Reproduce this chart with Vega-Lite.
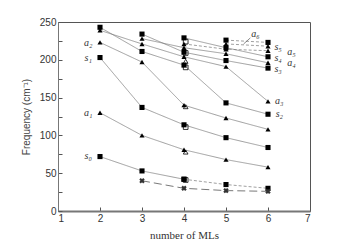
{
  "$schema": "https://vega.github.io/schema/vega-lite/v6.json",
  "width": 252,
  "height": 189,
  "autosize": "none",
  "padding": {"left": 58, "top": 22, "right": 28, "bottom": 39},
  "background": "white",
  "config": {
    "view": {"stroke": "#555", "strokeWidth": 1},
    "axis": {"grid": false, "labelFont": "Liberation Sans", "labelFontSize": 10, "labelColor": "#333", "domainColor": "#777", "tickColor": "#555", "labelOverlap": false},
    "axisY": {"labelOverlap": false},
    "axisQuantitative": {"labelOverlap": false}
  },
  "datasets": {
    "modes": [
      {"series": "s0a", "kind": "s", "dash": "solid", "x": 2, "y": 72},
      {"series": "s0a", "kind": "s", "dash": "solid", "x": 3, "y": 53},
      {"series": "s0a", "kind": "s", "dash": "solid", "x": 4, "y": 42},
      {"series": "s0b", "kind": "s", "dash": "short", "x": 4, "y": 42},
      {"series": "s0b", "kind": "s", "dash": "short", "x": 5, "y": 35},
      {"series": "s0b", "kind": "s", "dash": "short", "x": 6, "y": 30},
      {"series": "a1", "kind": "a", "dash": "solid", "x": 2, "y": 130},
      {"series": "a1", "kind": "a", "dash": "solid", "x": 3, "y": 100},
      {"series": "a1", "kind": "a", "dash": "solid", "x": 4, "y": 81},
      {"series": "a1", "kind": "a", "dash": "solid", "x": 5, "y": 68},
      {"series": "a1", "kind": "a", "dash": "solid", "x": 6, "y": 58},
      {"series": "s1", "kind": "s", "dash": "solid", "x": 2, "y": 203},
      {"series": "s1", "kind": "s", "dash": "solid", "x": 3, "y": 137},
      {"series": "s1", "kind": "s", "dash": "solid", "x": 4, "y": 114},
      {"series": "s1", "kind": "s", "dash": "solid", "x": 5, "y": 97},
      {"series": "s1", "kind": "s", "dash": "solid", "x": 6, "y": 84},
      {"series": "a2", "kind": "a", "dash": "solid", "x": 2, "y": 223},
      {"series": "a2", "kind": "a", "dash": "solid", "x": 3, "y": 197},
      {"series": "a2", "kind": "a", "dash": "solid", "x": 4, "y": 140},
      {"series": "a2", "kind": "a", "dash": "solid", "x": 5, "y": 123},
      {"series": "a2", "kind": "a", "dash": "solid", "x": 6, "y": 108},
      {"series": "s2", "kind": "s", "dash": "solid", "x": 2, "y": 243},
      {"series": "s2", "kind": "s", "dash": "solid", "x": 3, "y": 211},
      {"series": "s2", "kind": "s", "dash": "solid", "x": 4, "y": 193},
      {"series": "s2", "kind": "s", "dash": "solid", "x": 5, "y": 143},
      {"series": "s2", "kind": "s", "dash": "solid", "x": 6, "y": 128},
      {"series": "a3", "kind": "a", "dash": "solid", "x": 2, "y": 239},
      {"series": "a3", "kind": "a", "dash": "solid", "x": 3, "y": 221},
      {"series": "a3", "kind": "a", "dash": "solid", "x": 4, "y": 204},
      {"series": "a3", "kind": "a", "dash": "solid", "x": 5, "y": 191},
      {"series": "a3", "kind": "a", "dash": "solid", "x": 6, "y": 145},
      {"series": "s3", "kind": "s", "dash": "solid", "x": 3, "y": 234},
      {"series": "s3", "kind": "s", "dash": "solid", "x": 4, "y": 210},
      {"series": "s3", "kind": "s", "dash": "solid", "x": 5, "y": 199},
      {"series": "s3", "kind": "s", "dash": "solid", "x": 6, "y": 189},
      {"series": "a4", "kind": "a", "dash": "solid", "x": 3, "y": 228},
      {"series": "a4", "kind": "a", "dash": "solid", "x": 4, "y": 216},
      {"series": "a4", "kind": "a", "dash": "solid", "x": 5, "y": 208},
      {"series": "a4", "kind": "a", "dash": "solid", "x": 6, "y": 196},
      {"series": "s4", "kind": "s", "dash": "solid", "x": 4, "y": 229},
      {"series": "s4", "kind": "s", "dash": "solid", "x": 5, "y": 216},
      {"series": "s4", "kind": "s", "dash": "solid", "x": 6, "y": 204},
      {"series": "a5", "kind": "a", "dash": "short", "x": 4, "y": 221},
      {"series": "a5", "kind": "a", "dash": "short", "x": 5, "y": 214},
      {"series": "a5", "kind": "a", "dash": "short", "x": 6, "y": 212},
      {"series": "s5", "kind": "s", "dash": "short", "x": 5, "y": 226},
      {"series": "s5", "kind": "s", "dash": "short", "x": 6, "y": 223},
      {"series": "a6", "kind": "a", "dash": "short", "x": 5, "y": 221},
      {"series": "a6", "kind": "a", "dash": "short", "x": 6, "y": 218}
    ],
    "stars": [
      {"x": 3, "y": 40}, {"x": 4, "y": 30}, {"x": 5, "y": 27}, {"x": 6, "y": 26}
    ],
    "open": [
      {"kind": "s", "x": 4.04, "y": 224},
      {"kind": "s", "x": 4.04, "y": 209},
      {"kind": "s", "x": 4.04, "y": 190},
      {"kind": "s", "x": 4.04, "y": 111},
      {"kind": "s", "x": 4.04, "y": 41},
      {"kind": "a", "x": 4.04, "y": 198},
      {"kind": "a", "x": 4.04, "y": 138},
      {"kind": "a", "x": 4.04, "y": 78}
    ],
    "labels": [
      {"x": 1.72, "y": 222, "t": "a₂"},
      {"x": 1.72, "y": 202, "t": "s₁"},
      {"x": 1.72, "y": 130, "t": "a₁"},
      {"x": 1.72, "y": 73, "t": "s₀"},
      {"x": 5.7, "y": 234, "t": "a₆"},
      {"x": 6.24, "y": 217, "t": "s₅"},
      {"x": 6.56, "y": 210, "t": "a₅"},
      {"x": 6.24, "y": 203, "t": "s₄"},
      {"x": 6.56, "y": 196, "t": "a₄"},
      {"x": 6.24, "y": 188, "t": "s₃"},
      {"x": 6.27, "y": 145, "t": "a₃"},
      {"x": 6.27, "y": 128, "t": "s₂"}
    ],
    "leader": [
      {"x": 5.58, "y": 229, "x2": 5.42, "y2": 221}
    ]
  },
  "encoding": {
    "x": {"field": "x", "type": "quantitative", "scale": {"domain": [1, 7], "nice": false},
          "axis": {"values": [1, 2, 3, 4, 5, 6, 7], "labelOverlap": false, "tickSize": -4, "domainWidth": 2, "labelPadding": 6, "title": "number of MLs", "titleFont": "Liberation Serif", "titleFontWeight": "normal", "titleFontSize": 11, "titleColor": "#333", "titlePadding": 6}},
    "y": {"field": "y", "type": "quantitative", "scale": {"domain": [0, 250], "nice": false},
          "axis": {"values": [0, 25, 50, 75, 100, 125, 150, 175, 200, 225, 250], "labelOverlap": false, "labelExpr": "datum.value % 50 == 0 ? datum.label : ''", "tickSize": -4, "labelPadding": 6, "title": "Frequency (cm⁻¹)", "titleFont": "Liberation Sans", "titleFontWeight": "normal", "titleFontSize": 10, "titleColor": "#444", "titlePadding": 8}}
  },
  "layer": [
    {
      "data": {"name": "modes"},
      "mark": {"type": "line", "color": "#777", "strokeWidth": 0.7},
      "encoding": {
        "detail": {"field": "series"},
        "strokeDash": {"field": "dash", "type": "nominal", "scale": {"domain": ["solid", "short"], "range": [[1, 0], [3, 2]]}, "legend": null}
      }
    },
    {
      "data": {"name": "stars"},
      "mark": {"type": "line", "color": "#555", "strokeWidth": 0.8, "strokeDash": [8, 4]},
      "encoding": {}
    },
    {
      "data": {"name": "leader"},
      "mark": {"type": "rule", "color": "#555", "strokeWidth": 0.7},
      "encoding": {"x2": {"field": "x2"}, "y2": {"field": "y2"}}
    },
    {
      "data": {"name": "modes"},
      "mark": {"type": "point", "filled": true, "color": "black", "opacity": 1, "size": 26},
      "encoding": {
        "shape": {"field": "kind", "type": "nominal", "scale": {"domain": ["s", "a"], "range": ["square", "triangle-up"]}, "legend": null}
      }
    },
    {
      "data": {"name": "open"},
      "mark": {"type": "point", "filled": false, "color": "black", "strokeWidth": 0.8, "opacity": 1, "size": 22},
      "encoding": {
        "shape": {"field": "kind", "type": "nominal", "scale": {"domain": ["s", "a"], "range": ["square", "triangle-up"]}, "legend": null}
      }
    },
    {
      "data": {"name": "stars"},
      "mark": {"type": "point", "shape": "cross", "angle": 45, "filled": true, "color": "#333", "opacity": 1, "size": 30},
      "encoding": {}
    },
    {
      "data": {"name": "labels"},
      "mark": {"type": "text", "font": "Liberation Serif", "fontStyle": "italic", "fontSize": 10, "color": "#333", "align": "center", "baseline": "middle"},
      "encoding": {"text": {"field": "t"}}
    }
  ]
}
